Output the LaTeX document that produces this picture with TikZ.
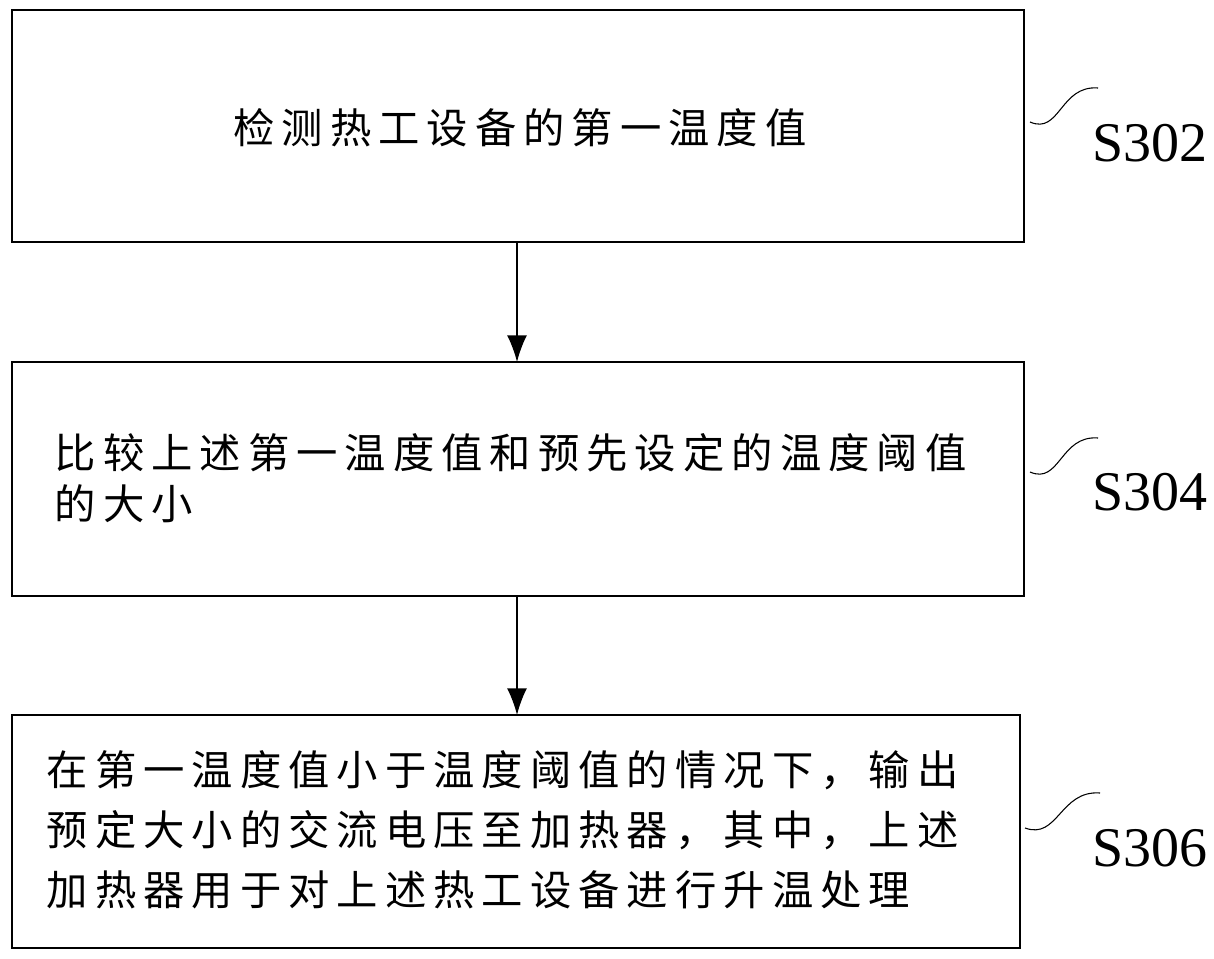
\documentclass[tikz,border=0pt]{standalone}
\usepackage{fontspec}
\newfontfamily\cjk[LetterSpace=17]{Noto Sans CJK SC}
\setmainfont{Liberation Serif}
\usetikzlibrary{arrows.meta}
\begin{document}
\begin{tikzpicture}[x=0.75pt,y=-0.75pt,
 box/.style={draw,line width=1pt,inner sep=0},
 txt/.style={font=\cjk\fontsize{31}{45}\selectfont,align=left,anchor=west},
 lab/.style={font=\fontsize{42}{45}\selectfont,anchor=west},
 arr/.style={-{Latex[length=20pt,width=15pt]},line width=1.2pt}]
\useasboundingbox (0,0) rectangle (1214,959);
\draw[box] (12,10) rectangle (1024,242);
\draw[box] (12,362) rectangle (1024,596);
\draw[box] (12,715) rectangle (1020,948);
\coordinate (b1) at (517,242); \coordinate (t2) at (517,362);
\coordinate (b2) at (517,596); \coordinate (t3) at (517,715);
\draw[arr] (b1) -- (t2);
\draw[arr] (b2) -- (t3);
\node[txt,anchor=center] (t1) at (520,128) {检测热工设备的第一温度值};
\node[txt,font=\cjk\fontsize{31}{38}\selectfont] (tx2) at (50,478) {比较上述第一温度值和预先设定的温度阈值\\的大小};
\node[txt] (tx3) at (42,830) {在第一温度值小于温度阈值的情况下，输出\\预定大小的交流电压至加热器，其中，上述\\加热器用于对上述热工设备进行升温处理};
\node[lab] (s1) at (1088,143) {S302};
\node[lab] (s2) at (1088,492) {S304};
\node[lab] (s3) at (1088,848) {S306};
\draw[line width=0.8pt] (1030,122) .. controls (1060,135) and (1060,85) .. (1098,88);
\draw[line width=0.8pt] (1030,472) .. controls (1060,485) and (1060,435) .. (1098,438);
\draw[line width=0.8pt] (1025,828) .. controls (1058,840) and (1060,790) .. (1100,793);
\end{tikzpicture}
\end{document}
